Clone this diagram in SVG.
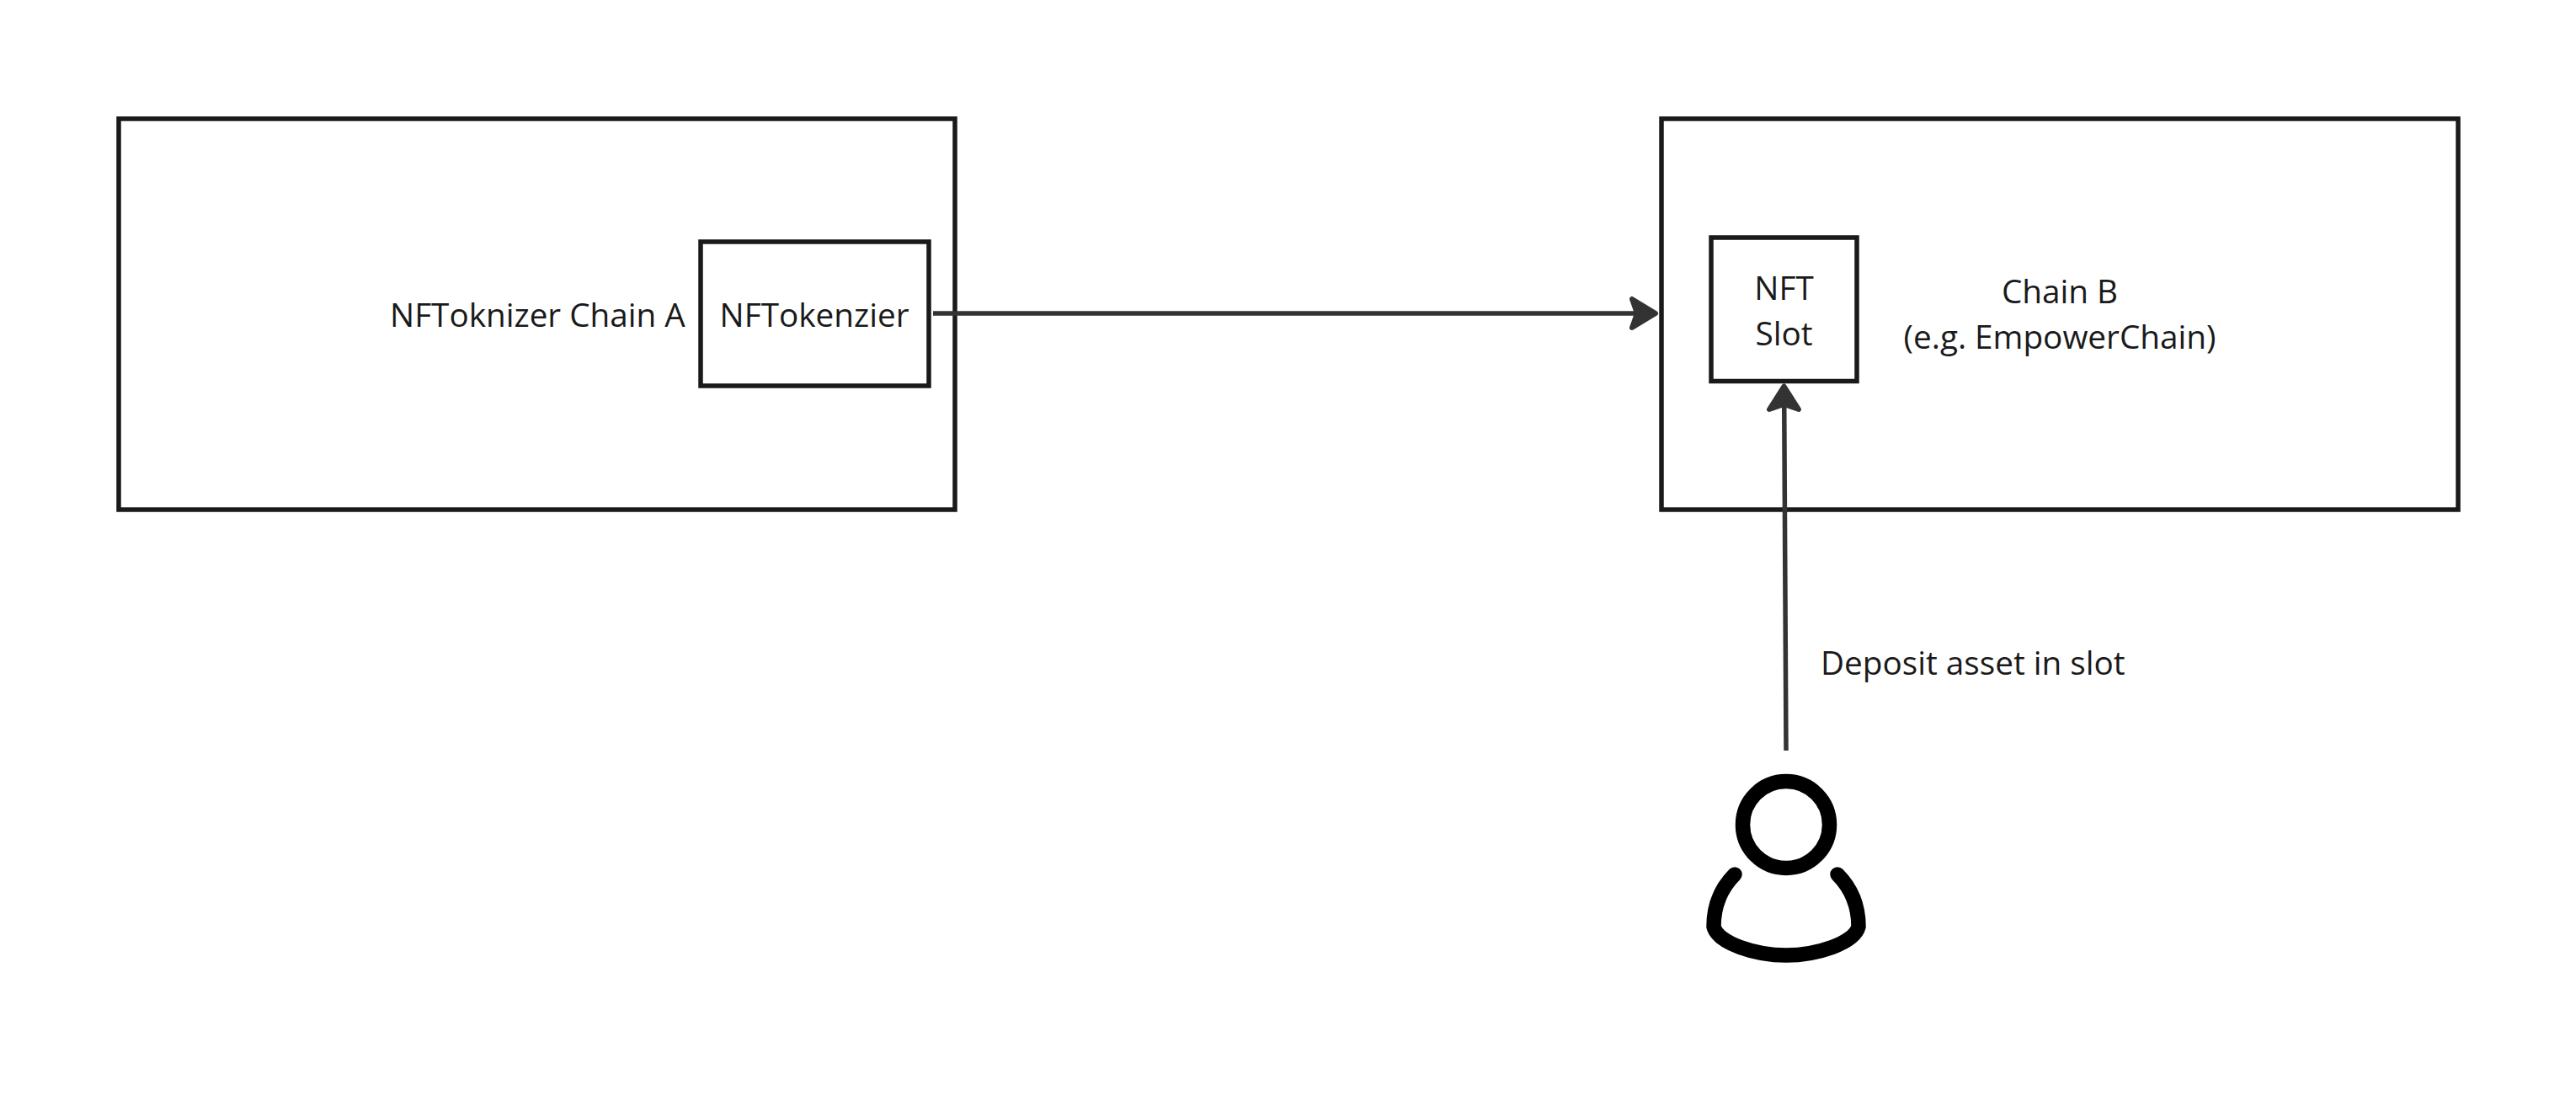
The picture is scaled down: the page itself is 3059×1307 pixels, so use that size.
<svg xmlns="http://www.w3.org/2000/svg" width="3059" height="1307" viewBox="0 0 3059 1307">
<style>
.box{fill:#fff;stroke:#1a1a1a;stroke-width:5.5}
.lbl{font-family:"Open Sans","Noto Sans",sans-serif;font-size:38.7px;fill:#1a1a1a}
.m{text-anchor:middle}
.conn{fill:none;stroke:#333;stroke-width:5.5}
.head{fill:#333;stroke:#333;stroke-width:6;stroke-linejoin:round}
.icon{fill:none;stroke:#000;stroke-width:17.500;stroke-linecap:round;stroke-linejoin:round}
</style>
<rect width="3059" height="1307" fill="#fff"/>
<g id="chain-a">
<rect class="box" x="141" y="141" width="993" height="464"/>
<text class="lbl" x="463" y="388">NFToknizer Chain A</text>
</g>
<g id="nftokenizer">
<rect class="box" x="832" y="287" width="271" height="171"/>
<text class="lbl m" x="967" y="388">NFTokenzier</text>
</g>
<g id="chain-b">
<rect class="box" x="1973" y="141" width="946" height="464"/>
<text class="lbl m" x="2446" y="360">Chain B</text>
<text class="lbl m" x="2446" y="414">(e.g. EmpowerChain)</text>
</g>
<g id="nft-slot">
<rect class="box" x="2032" y="282" width="173" height="170.500"/>
<text class="lbl m" x="2118.500" y="355.500">NFT</text>
<text class="lbl m" x="2118.500" y="410">Slot</text>
</g>
<g id="user">
<circle class="icon" cx="2121" cy="979" r="51.500"/>
<path class="icon" d="M2060 1038C2044 1054 2035 1074 2035 1100C2040 1120 2085 1134 2121 1134C2157 1134 2202 1120 2207 1100C2207 1074 2198 1054 2182 1038"/>
</g>
<g id="connectors">
<path class="conn" d="M1108 372H1950"/>
<path class="head" d="M1966 372L1938 355L1944 372L1938 389Z"/>
<path class="conn" d="M2121 891L2118.700 475"/>
<path class="head" d="M2118.500 458.500L2101 486L2118.500 480L2136 486Z"/>
<text class="lbl" x="2162" y="801">Deposit asset in slot</text>
</g>
</svg>
